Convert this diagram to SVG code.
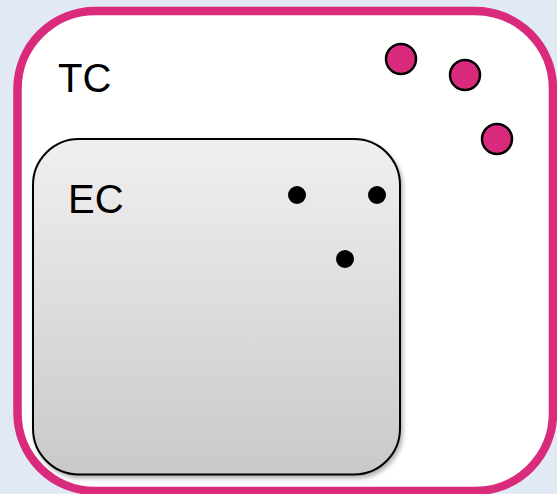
<svg xmlns="http://www.w3.org/2000/svg" width="557" height="494" viewBox="0 0 557 494">
<style>
.lbl{font-family:"Liberation Sans",Arial,sans-serif;font-size:40px;fill:#000}
.pk{fill:#d92a7c;stroke:#000;stroke-width:2.5}
.bk{fill:#000}
</style>
<defs>
<linearGradient id="g" x1="0" y1="0" x2="0" y2="1">
<stop offset="0" stop-color="#f0f0f0"/>
<stop offset="1" stop-color="#c9c9c9"/>
</linearGradient>
<filter id="sh" x="-10%" y="-10%" width="120%" height="120%">
<feDropShadow dx="2" dy="3" stdDeviation="2" flood-color="#000" flood-opacity="0.3"/>
</filter>
</defs>
<rect width="557" height="494" fill="#e0e9f4"/>
<g id="TC">
<rect x="17.5" y="11" width="535.5" height="480" rx="78" ry="78" fill="#fff" stroke="#d92a7c" stroke-width="8.5"/>
<text class="lbl" x="58" y="92">TC</text>
</g>
<g id="EC">
<rect x="33" y="139" width="367" height="335.5" rx="46" ry="46" fill="url(#g)" stroke="#000" stroke-width="2" filter="url(#sh)"/>
<text class="lbl" x="68" y="213">EC</text>
</g>
<g id="pink-dots">
<circle class="pk" cx="401" cy="59" r="15"/>
<circle class="pk" cx="465" cy="75" r="15"/>
<circle class="pk" cx="497" cy="139" r="15"/>
</g>
<g id="black-dots">
<circle class="bk" cx="297" cy="195" r="9"/>
<circle class="bk" cx="377" cy="195" r="9"/>
<circle class="bk" cx="345" cy="259" r="9"/>
</g>
<g id="connectors"/>
</svg>
